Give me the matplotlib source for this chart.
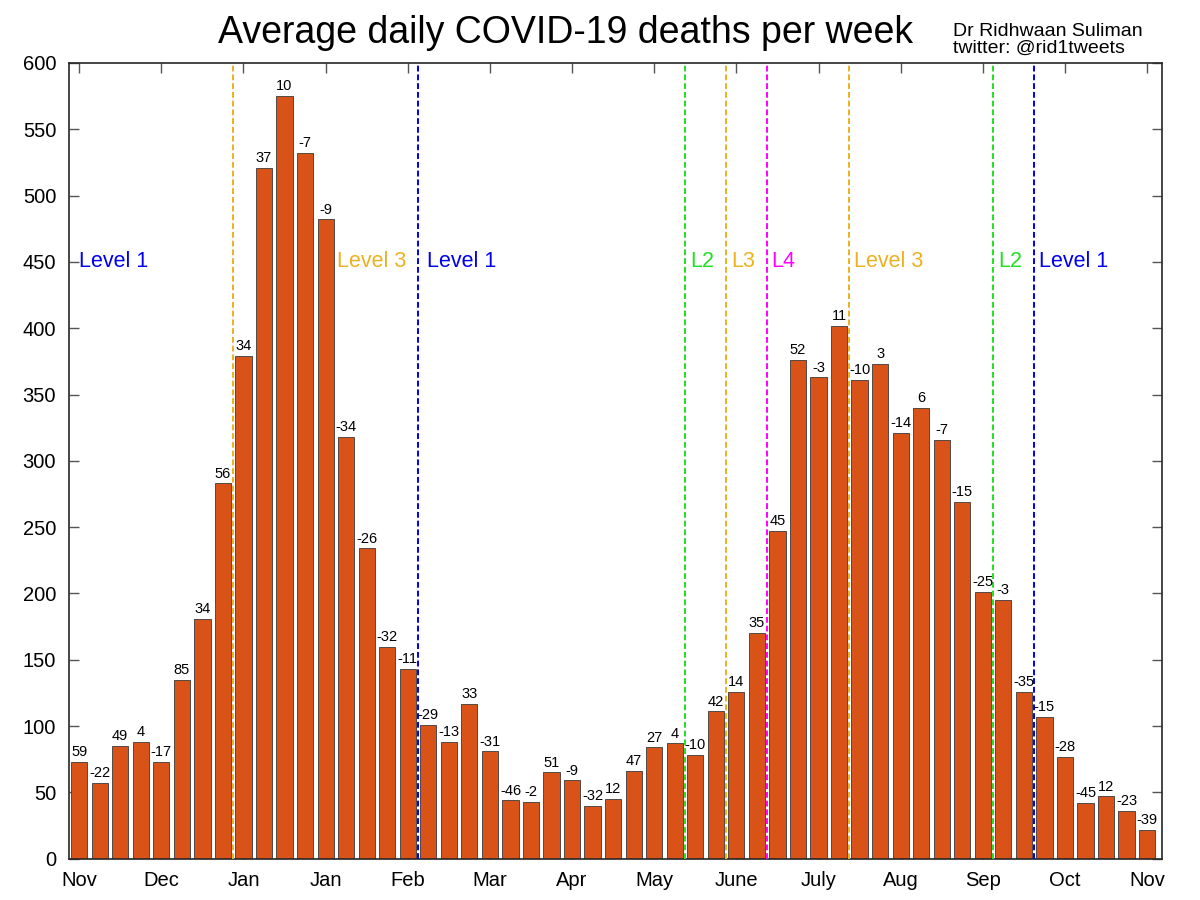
import matplotlib
matplotlib.use("Agg")
import matplotlib.pyplot as plt
import numpy as np

plt.rcParams['font.family'] = ['Liberation Sans', 'DejaVu Sans']

# Average daily deaths per week (Nov .. Nov)
deaths = [73, 57, 85, 88, 73, 135, 181, 283, 379, 521, 575, 532, 482, 318, 234, 160, 143,
          101, 88, 117, 81, 44, 43, 65, 59, 40, 45, 66, 84, 87, 78, 111, 126, 170,
          247, 376, 363, 402, 361, 373, 321, 340, 316, 269, 201, 195, 126, 107, 77, 42, 47, 36, 22]
# week-on-week % change labels
changes = ["59", "-22", "49", "4", "-17", "85", "34", "56", "34", "37", "10", "-7", "-9", "-34",
           "-26", "-32", "-11", "-29", "-13", "33", "-31", "-46", "-2", "51", "-9", "-32", "12",
           "47", "27", "4", "-10", "42", "14", "35", "45", "52", "-3", "11", "-10", "3", "-14",
           "6", "-7", "-15", "-25", "-3", "-35", "-15", "-28", "-45", "12", "-23", "-39"]
month_labels = ["Nov", "Dec", "Jan", "Jan", "Feb", "Mar", "Apr", "May", "June", "July",
                "Aug", "Sep", "Oct", "Nov"]
# lockdown level changes (week boundaries)
level_lines = [7.5, 16.5, 29.5, 31.5, 33.5, 37.5, 44.5, 46.5]
level_line_colors = ['#EDB120', '#0000EE', '#22E022', '#EDB120', '#FF00FF', '#EDB120', '#22E022', '#0000EE']
level_texts = ["Level 1", "Level 3", "Level 1", "L2", "L3", "L4", "Level 3", "L2", "Level 1"]
level_text_x = [0.0, 12.56, 16.95, 29.75, 31.75, 33.71, 37.74, 44.73, 46.72]
level_text_colors = ['#0000EE', '#EDB120', '#0000EE', '#22E022', '#EDB120', '#FF00FF', '#EDB120', '#22E022', '#0000EE']

fig = plt.figure(figsize=(12, 9), dpi=100)
ax = fig.add_axes([0.05725, 0.04589, 0.91133, 0.88411])

x = np.arange(len(deaths))
ax.bar(x, deaths, width=0.79, color='#D95319', edgecolor='#3a3a3a', linewidth=0.6, zorder=2)

for xi, h, lab in zip(x, deaths, changes):
    ax.annotate(lab, (xi, h), xytext=(0, 2), textcoords='offset points',
                ha='center', va='bottom', fontsize=10.5, color='black', zorder=4)

for xl, c in zip(level_lines, level_line_colors):
    ax.axvline(xl, color=c, linewidth=1.4, linestyle=(0, (3, 1.5)), zorder=3)

for tx, t, c in zip(level_text_x, level_texts, level_text_colors):
    ax.text(tx, 450, t, color=c, fontsize=15.5, ha='left', va='center', zorder=4)

ax.set_xlim(-0.51, 52.74)
ax.set_ylim(0, 600)
ax.set_xticks(np.arange(0, 53, 4))
ax.set_xticklabels(month_labels)
ax.set_yticks(np.arange(0, 601, 50))

ax.tick_params(axis='both', direction='in', length=7, width=1, color='#555555',
               labelsize=14.5, top=True, right=True)
ax.tick_params(axis='y', pad=9)
ax.tick_params(axis='x', pad=9)
for s in ax.spines.values():
    s.set_color('#262626')
    s.set_linewidth(1.2)

fig.text(565 / 1200, 1 - 33 / 900, "Average daily COVID-19 deaths per week",
         ha='center', va='center', fontsize=27)
fig.text(953 / 1200, 1 - 31 / 900, "Dr Ridhwaan Suliman", ha='left', va='center', fontsize=14)
fig.text(953 / 1200, 1 - 48 / 900, "twitter: @rid1tweets", ha='left', va='center', fontsize=14)

fig.savefig("out.png", dpi=100)
